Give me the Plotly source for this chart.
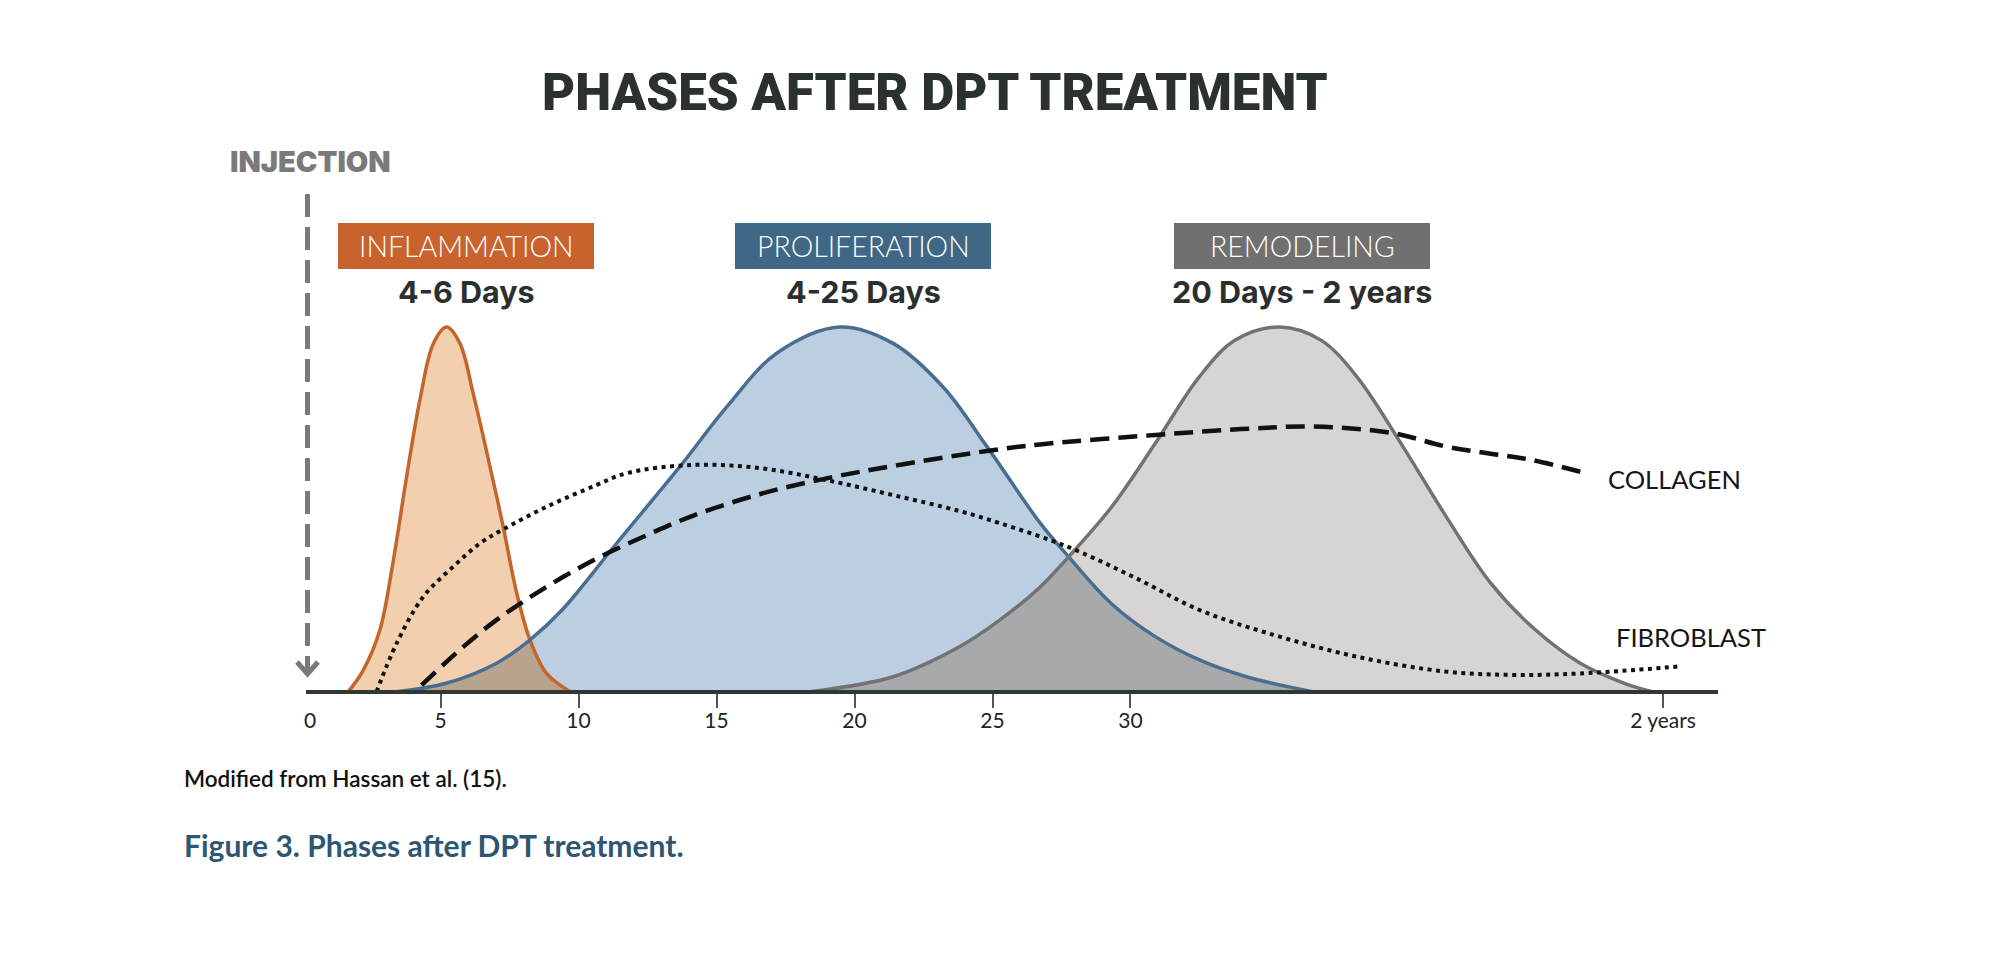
import numpy as np
import plotly.graph_objects as go

# ---------------- data (days after injection, relative intensity 0-100) ----------------
inflam_x = [1.66, 2.2, 2.8, 3.29, 3.77, 4.25, 4.74, 5.22, 5.7, 6.18, 6.79, 7.27, 7.76, 8.24, 8.84, 9.69]
inflam_y = [0, 5.9, 16.9, 36.1, 59, 80, 95.5, 100, 95.5, 81.8, 61.7, 45.2, 27, 14.2, 5.0, 0]

prolif_x = [3.4, 5.2, 7.03, 8.24, 9.4, 11.38, 13.67, 15.37, 17.18, 19.47, 21.4, 23.2, 24.8,
            26.7, 27.7, 29.3, 30.9, 32.5, 34.2, 36.6]
prolif_y = [0, 2.3, 7.8, 14.2, 22.4, 40.7, 61.7, 78.1, 92.8, 100, 95.5, 83.6, 67.2,
            46.5, 37.5, 24.2, 15.1, 8.7, 4.1, 0]

remod_x = [18.38, 21.4, 23.8, 25.27, 26.7, 27.7, 29.3, 30.9, 32.5, 33.8, 35.41, 36.9, 38.2,
           39.8, 41.44, 43.06, 44.68, 46.3, 47.9, 48.9]
remod_y = [0, 4.1, 12.3, 19.7, 28.5, 36.5, 50.5, 68.1, 86.4, 96.4, 100, 96.4, 86.4,
           68.1, 48, 29.7, 16.9, 7.8, 2.3, 0]

collagen_x = [4.31, 5.82, 7.03, 8.24, 9.45, 10.78, 12.5, 14.16, 16.58, 18.99, 21.4, 24.8,
              26.72, 30.9, 34.0, 36.6, 39.5, 41.44, 43.0, 44.5, 46.3]
collagen_y = [1.8, 12.3, 19.7, 25.9, 31.5, 37.0, 43.0, 48.3, 54.2, 58.5, 61.9, 66.0,
              67.8, 70.4, 72.0, 72.7, 70.9, 67.2, 65.3, 63.6, 60.3]

fibro_x = [2.68, 3.41, 4.37, 5.46, 6.43, 7.27, 8.84, 10.66, 11.74, 14.16, 16.58, 18.99, 21.4,
           23.82, 25.27, 27.7, 30.1, 32.5, 35.0, 38.2, 41.44, 43.86, 46.3, 49.85]
fibro_y = [0, 13.3, 26, 34.3, 40.7, 44.5, 50.7, 56.7, 59.9, 62.2, 61.3, 58, 53.9,
           49.5, 46.2, 39.8, 31.5, 22.4, 16, 9.6, 5.5, 4.6, 5, 6.9]

tick_vals = [0, 5, 10, 15, 20, 25, 30, 49.3]
tick_text = ["0", "5", "10", "15", "20", "25", "30", "2 years"]

phase_names = ["INFLAMMATION", "PROLIFERATION", "REMODELING"]
phase_periods = ["4-6 Days", "4-25 Days", "20 Days - 2 years"]

# ---------------- styling ----------------
W, H = 2000, 953
def px(x):
    return x / W
def py(y):
    return 1 - y / H

X_DOMAIN = [px(306), px(1718)]
X_RANGE = [0.123, 51.29]
def x_to_paper(v):
    return X_DOMAIN[0] + (v - X_RANGE[0]) / (X_RANGE[1] - X_RANGE[0]) * (X_DOMAIN[1] - X_DOMAIN[0])

ORANGE_LINE, ORANGE_FILL = "#c4662c", "#f2cfae"
BLUE_LINE, BLUE_FILL = "#4a6e91", "#bccfe2"
GREY_LINE, GREY_FILL = "#727272", "#d8d4d1"
OV_OB, OV_BG = "#b8a38e", "#a8a9ab"
BOX_COLORS = ["#c8632e", "#3e6886", "#707070"]

fig = go.Figure()

# fills
for xs, ys, fc in [(inflam_x, inflam_y, ORANGE_FILL), (prolif_x, prolif_y, BLUE_FILL),
                   (remod_x, remod_y, GREY_FILL)]:
    fig.add_trace(go.Scatter(x=xs, y=ys, mode="lines", fill="tozeroy", fillcolor=fc,
                             line=dict(width=0, shape="spline"), hoverinfo="skip",
                             showlegend=False))

# overlap regions (darker, like multiplied transparencies)
def overlap(ax, ay, bx, by, color):
    lo, hi = max(ax[0], bx[0]), min(ax[-1], bx[-1])
    g = np.linspace(lo, hi, 400)
    m = np.minimum(np.interp(g, ax, ay), np.interp(g, bx, by))
    fig.add_trace(go.Scatter(x=g, y=m, mode="lines", fill="tozeroy", fillcolor=color,
                             line=dict(width=0), hoverinfo="skip", showlegend=False))

overlap(inflam_x, inflam_y, prolif_x, prolif_y, OV_OB)
overlap(prolif_x, prolif_y, remod_x, remod_y, OV_BG)

# outlines
for xs, ys, lc in [(inflam_x, inflam_y, ORANGE_LINE), (prolif_x, prolif_y, BLUE_LINE),
                   (remod_x, remod_y, GREY_LINE)]:
    fig.add_trace(go.Scatter(x=xs, y=ys, mode="lines",
                             line=dict(color=lc, width=3.5, shape="spline"),
                             hoverinfo="skip", showlegend=False))

# collagen & fibroblast
fig.add_trace(go.Scatter(x=collagen_x, y=collagen_y, mode="lines",
                         line=dict(color="#111111", width=4.5, dash="19px,9px", shape="spline"),
                         showlegend=False, hoverinfo="skip"))
fig.add_trace(go.Scatter(x=fibro_x, y=fibro_y, mode="lines",
                         line=dict(color="#111111", width=4, dash="4px,4.5px", shape="spline"),
                         showlegend=False, hoverinfo="skip"))

ann = []
# title
ann.append(dict(text="PHASES AFTER DPT TREATMENT", x=px(935), y=py(93),
                font=dict(family="Roboto", size=51, weight=900, color="#2b312d")))
ann.append(dict(text="INJECTION", x=px(310), y=py(161),
                font=dict(family="Inter", size=29, weight=900, color="#7a7a7a")))

# phase boxes
shapes = []
box_cx = [466, 863, 1302]
for name, period, cx, col in zip(phase_names, phase_periods, box_cx, BOX_COLORS):
    shapes.append(dict(type="rect", xref="paper", yref="paper",
                       x0=px(cx - 128), x1=px(cx + 128), y0=py(269), y1=py(223),
                       fillcolor=col, line=dict(width=0), layer="above"))
    ann.append(dict(text=name, x=px(cx), y=py(246),
                    font=dict(family="Lato", size=28.5, weight=300, color="white")))
    ann.append(dict(text=period, x=px(cx), y=py(291),
                    font=dict(family="Inter", size=30.5, weight=700, color="#2b2f2d")))

# injection arrow
shapes.append(dict(type="line", xref="paper", yref="paper", x0=px(307.5), x1=px(307.5),
                   y0=py(194), y1=py(672), line=dict(color="#7a7a7a", width=5, dash="23px,10px")))
shapes.append(dict(type="path", xref="paper", yref="paper",
                   path=f"M {px(297)},{py(662)} L {px(307.5)},{py(674)} L {px(318)},{py(662)}",
                   line=dict(color="#7a7a7a", width=5)))

# series labels
ann.append(dict(text="COLLAGEN", x=px(1606), y=py(479), xanchor="left",
                font=dict(family="Lato", size=25.5, color="#151515")))
ann.append(dict(text="FIBROBLAST", x=px(1614), y=py(637), xanchor="left",
                font=dict(family="Lato", size=25.5, color="#151515")))

# '0' label (no tick mark at origin)
ann.append(dict(text=tick_text[0], x=x_to_paper(tick_vals[0]), xshift=7, y=py(719.5),
                font=dict(family="Lato", size=21, color="#222")))

# captions
ann.append(dict(text="Modified from Hassan et al. (15).", x=px(182), y=py(778), xanchor="left",
                font=dict(family="Lato", size=22.5, weight=600, color="#111")))
ann.append(dict(text="Figure 3. Phases after DPT treatment.", x=px(182), y=py(845), xanchor="left",
                font=dict(family="Lato", size=30, weight=700, color="#2d5673")))

for a in ann:
    a.setdefault("xref", "paper")
    a.setdefault("yref", "paper")
    a.setdefault("showarrow", False)
    a.setdefault("xanchor", "center")
    a.setdefault("yanchor", "middle")

fig.update_layout(
    width=W, height=H, margin=dict(l=0, r=0, t=0, b=0),
    paper_bgcolor="white", plot_bgcolor="rgba(0,0,0,0)",
    font=dict(family="Lato"),
    annotations=ann, shapes=shapes, showlegend=False,
    xaxis=dict(domain=X_DOMAIN, range=X_RANGE, anchor="free",
               position=py(691.7), showline=True, linewidth=4, linecolor="#2f3833",
               tickmode="array", tickvals=tick_vals[1:], ticktext=tick_text[1:],
               ticks="outside", ticklen=14, tickwidth=1.5, tickcolor="#555",
               ticklabelstandoff=-5,
               tickfont=dict(family="Lato", size=21, color="#222"),
               showgrid=False, zeroline=False, layer="above traces"),
    yaxis=dict(domain=[py(753), py(300)], range=[-16.81, 107.4], visible=False),
)

fig.write_html("out.html")
